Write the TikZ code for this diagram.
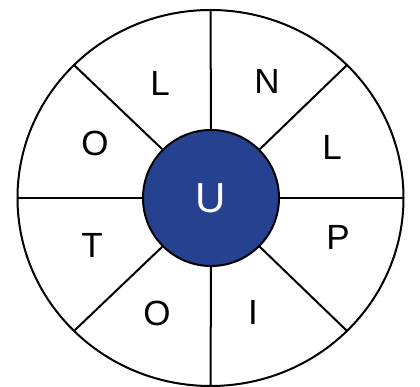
\documentclass[tikz,border=0pt]{standalone}
\usepackage{fontspec}
\setmainfont{Liberation Sans}
\usetikzlibrary{calc}
\definecolor{hubblue}{RGB}{38,65,143}
\begin{document}
\begin{tikzpicture}[x=1pt,y=1pt,
  rim/.style={draw=black,line width=2pt},
  spoke/.style={draw=black,line width=2pt},
  hub/.style={circle,draw=black,line width=2pt,fill=hubblue,minimum size=136pt,inner sep=0pt,text=white,font=\fontsize{42}{42}\selectfont},
  letter/.style={font=\fontsize{35}{35}\selectfont,text=black}]
\useasboundingbox (0,0) rectangle (420,387);
\coordinate (o) at (210.5,189);
\draw[rim] (o) ellipse [x radius=193, y radius=188];
\foreach \a in {0,45,...,315}{
  \coordinate (e\a) at ($(o)+(\a:193 and 188)$);
}
\node[hub] (c) at (211,189) {U};
\foreach \a in {0,45,...,315}{
  \draw[spoke] (c.\a) -- (e\a);
}
\node[letter] (l1) at (160,304) {L};
\node[letter] (l2) at (267,306) {N};
\node[letter] (l3) at (332,240) {L};
\node[letter] (l4) at (338,150) {P};
\node[letter] (l5) at (253,75) {I};
\node[letter] (l6) at (157,74) {O};
\node[letter] (l7) at (92,142) {T};
\node[letter] (l8) at (95,244) {O};
\end{tikzpicture}
\end{document}
